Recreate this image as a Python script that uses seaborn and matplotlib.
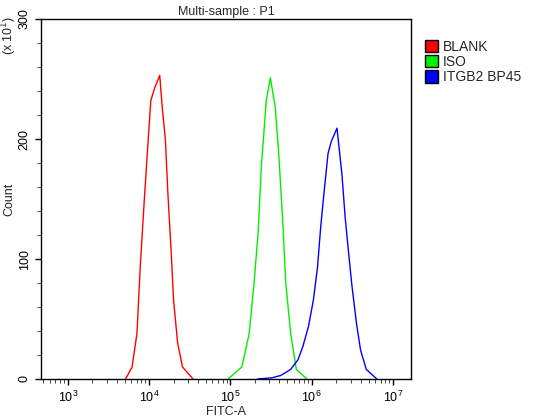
import matplotlib
matplotlib.use("Agg")
import matplotlib.pyplot as plt
import seaborn as sns
import numpy as np
import pandas as pd
from matplotlib.patches import Patch
from matplotlib.ticker import MultipleLocator, LogLocator, NullFormatter

blank_logx = [3.71,3.79,3.85,3.89,3.94,3.98,4.02,4.07,4.13,4.16,4.20,4.23,4.27,4.30,4.35,4.41,4.54]
blank_y = [0,10,38,93,149,191,232,243,253,227,199,155,107,66,30,10,0]
iso_logx = [4.97,5.14,5.23,5.29,5.34,5.38,5.44,5.49,5.55,5.59,5.64,5.68,5.74,5.81,5.94]
iso_y = [0,10,38,80,122,177,232,251,227,191,135,80,38,8,0]
itg_logx = [5.33,5.51,5.62,5.74,5.83,5.89,5.96,6.02,6.07,6.11,6.15,6.20,6.24,6.31,6.37,6.41,6.45,6.49,6.55,6.60,6.67,6.80]
itg_y = [0,1,3,8,16,27,44,66,93,127,155,188,198,209,171,135,107,80,46,24,8,0]
names = ["BLANK", "ISO", "ITGB2 BP45"]
colors = ["#ff0000", "#00ee00", "#0000ff"]

frames = []
for n, lx, y in zip(names, [blank_logx, iso_logx, itg_logx], [blank_y, iso_y, itg_y]):
    frames.append(pd.DataFrame({"x": 10 ** np.array(lx), "y": y, "s": n}))
df = pd.concat(frames)

sns.set_style("ticks")
plt.rcParams["font.family"] = ["Liberation Sans", "DejaVu Sans"]
fig = plt.figure(figsize=(5.48, 4.18), dpi=100)
ax = fig.add_axes([41/548, 1-379/418, 370/548, 360/418])
sns.lineplot(data=df, x="x", y="y", hue="s", palette=colors, ax=ax, legend=False, lw=1, sort=False)
ax.set_xscale("log")
ax.set_xlim(10**2.67, 10**7.22)
ax.set_ylim(0, 300)
ax.yaxis.set_major_locator(MultipleLocator(100))
ax.yaxis.set_minor_locator(MultipleLocator(20))
ax.xaxis.set_major_locator(LogLocator(base=10, numticks=10))
ax.xaxis.set_minor_locator(LogLocator(base=10, subs=np.arange(2, 10), numticks=100))
ax.xaxis.set_minor_formatter(NullFormatter())
ax.tick_params(labelsize=9, direction="out", length=4, width=1, colors="black")
ax.tick_params(which="minor", length=3)
for lab in ax.get_yticklabels():
    lab.set_rotation(90)
    lab.set_va("center")
ax.set_xlabel("FITC-A", fontsize=9, labelpad=1)
ax.set_ylabel("Count", fontsize=9, labelpad=2)
ax.set_title("Multi-sample : P1", fontsize=9, pad=3)
for s in ax.spines.values():
    s.set_linewidth(1)
    s.set_color("black")
fig.text(9/548, 1-35/418, "(x 10$^1$)", rotation=90, fontsize=9, ha="center", va="center")
handles = [Patch(facecolor=c, edgecolor="black", label=n) for n, c in zip(names, colors)]
fig.legend(handles=handles, loc="upper left", bbox_to_anchor=(419/548, 1-34/418), frameon=False,
           fontsize=10, handlelength=1.0, handleheight=1.0, handletextpad=0.3, labelspacing=0.1, borderaxespad=0)
fig.savefig("out.png", dpi=100)
